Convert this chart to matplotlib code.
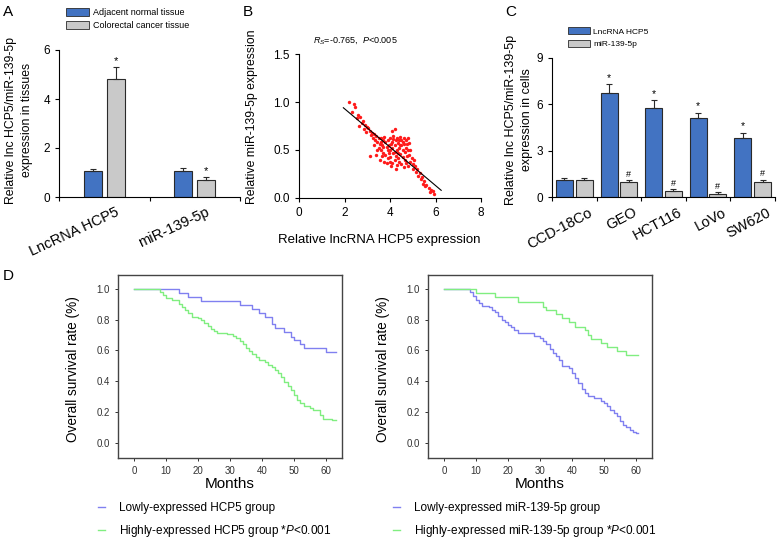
import matplotlib
matplotlib.use("Agg")
import matplotlib.pyplot as plt
import matplotlib.transforms as mtransforms
from matplotlib.patches import Rectangle
from matplotlib.lines import Line2D

plt.rcParams["font.family"] = ["Liberation Sans", "DejaVu Sans"]
plt.rcParams["mathtext.fontset"] = "custom"
plt.rcParams["mathtext.rm"] = "Liberation Sans"
plt.rcParams["mathtext.it"] = "Liberation Sans:italic"

W, H = 780, 540

# ---- data ----
# A: tissues
tissue_groups = ["LncRNA HCP5", "miR-139-5p"]
tissue_normal = [1.05, 1.08]
tissue_normal_err = [0.10, 0.12]
tissue_cancer = [4.8, 0.70]
tissue_cancer_err = [0.50, 0.10]
tissue_marks = ["*", "*"]

# B: correlation scatter
scatter_x = [2.2, 2.4, 2.45, 2.35, 2.6, 2.55, 2.7, 2.8, 2.75, 2.9, 2.65, 3.0, 2.85, 3.1, 3.05,
             3.2, 3.15, 2.95, 3.3, 3.25, 3.1,
             3.4, 3.5, 3.35, 3.6, 3.45, 3.55, 3.7, 3.65, 3.75, 3.8, 3.5, 3.6, 3.7, 3.85, 3.9,
             3.95, 3.4, 3.55, 3.8, 3.75, 3.9, 3.65, 3.85, 4.0, 4.0, 3.95, 4.0, 4.05,
             4.1, 4.2, 4.15, 4.25, 4.1, 4.3, 4.2, 4.35, 4.1, 4.3, 4.15, 4.4, 4.45, 4.25, 4.4,
             4.5, 4.2, 4.35, 4.1, 4.3, 4.45, 4.5, 4.55, 4.25, 4.4, 4.6, 4.6, 4.55, 4.65, 4.7,
             4.7, 4.5, 4.65, 4.75, 4.8, 4.8, 4.75, 4.85, 4.6, 4.9, 4.85, 4.95, 4.7, 4.9, 5.0,
             4.8, 5.05, 5.0, 3.3, 3.45, 3.6, 3.7, 3.9, 4.05, 4.15, 4.35, 4.45, 4.55, 4.0, 4.2,
             5.1, 5.2, 5.15, 5.3, 5.25, 5.4, 5.35, 5.5, 5.45, 5.6, 5.55, 5.7, 5.8, 5.75, 5.9, 5.95]
scatter_y = [1.0, 0.98, 0.95, 0.9, 0.86, 0.83, 0.84, 0.8, 0.78, 0.76, 0.75, 0.74, 0.72, 0.7, 0.73,
             0.68, 0.66, 0.69, 0.67, 0.63, 0.44,
             0.65, 0.62, 0.6, 0.63, 0.58, 0.56, 0.6, 0.55, 0.64, 0.58, 0.52, 0.5, 0.47, 0.53, 0.6,
             0.55, 0.45, 0.4, 0.45, 0.38, 0.42, 0.44, 0.36, 0.62, 0.5, 0.47, 0.38, 0.33,
             0.7, 0.72, 0.65, 0.6, 0.58, 0.63, 0.55, 0.57, 0.52, 0.5, 0.47, 0.6, 0.64, 0.44, 0.52,
             0.55, 0.4, 0.42, 0.36, 0.34, 0.46, 0.6, 0.5, 0.3, 0.38, 0.63, 0.56, 0.43, 0.48, 0.6,
             0.52, 0.35, 0.4, 0.56, 0.62, 0.5, 0.44, 0.57, 0.32, 0.5, 0.45, 0.42, 0.36, 0.38, 0.35,
             0.33, 0.4, 0.3, 0.55, 0.5, 0.58, 0.53, 0.5, 0.56, 0.61, 0.47, 0.55, 0.58, 0.43, 0.48,
             0.33, 0.3, 0.27, 0.26, 0.23, 0.22, 0.2, 0.18, 0.15, 0.14, 0.12, 0.1, 0.08, 0.06, 0.07, 0.04]
fit_x = [1.95, 6.25]
fit_y = [0.94, 0.08]

# C: cell lines
cell_lines = ["CCD-18Co", "GEO", "HCT116", "LoVo", "SW620"]
cell_hcp5 = [1.1, 6.75, 5.75, 5.1, 3.85]
cell_hcp5_err = [0.15, 0.55, 0.5, 0.35, 0.3]
cell_mir = [1.1, 0.95, 0.42, 0.22, 1.0]
cell_mir_err = [0.1, 0.12, 0.08, 0.08, 0.1]
cell_hcp5_marks = ["", "*", "*", "*", "*"]
cell_mir_marks = ["", "#", "#", "#", "#"]

# D: Kaplan-Meier steps
hcp5_low_t = [0, 14, 17, 21, 33, 37, 39, 41, 43, 44, 47, 49, 50, 52, 53, 60, 63]
hcp5_low_s = [1.0, 0.975, 0.95, 0.92, 0.895, 0.87, 0.845, 0.82, 0.77, 0.745, 0.72, 0.69,
              0.665, 0.64, 0.615, 0.59, 0.59]
hcp5_high_t = [0, 8, 9, 10, 12, 14, 15, 16, 17, 18, 20, 21, 22, 23, 24, 25, 26, 29, 31, 32,
               33, 34, 35, 36, 37, 38, 39, 41, 42, 43, 44, 45, 46, 47, 48, 49, 50, 51, 52, 53,
               55, 56, 58, 59, 62, 63]
hcp5_high_s = [1.0, 0.98, 0.96, 0.94, 0.925, 0.9, 0.88, 0.86, 0.84, 0.82, 0.81, 0.795, 0.775,
               0.76, 0.74, 0.725, 0.71, 0.705, 0.695, 0.68, 0.66, 0.64, 0.615, 0.595, 0.575,
               0.555, 0.54, 0.525, 0.505, 0.49, 0.475, 0.45, 0.425, 0.395, 0.37, 0.34, 0.31,
               0.28, 0.26, 0.24, 0.225, 0.21, 0.18, 0.155, 0.145, 0.145]
mir_low_t = [0, 8, 9, 10, 11, 12, 14, 15, 16, 17, 18, 19, 20, 21, 22, 23, 28, 30, 31, 32, 33,
             34, 35, 36, 37, 39, 40, 41, 42, 43, 44, 45, 47, 49, 50, 51, 52, 53, 54, 55, 56,
             57, 58, 59, 60, 60.5]
mir_low_s = [1.0, 0.98, 0.955, 0.93, 0.905, 0.89, 0.88, 0.865, 0.85, 0.825, 0.8, 0.785, 0.765,
             0.75, 0.73, 0.71, 0.695, 0.68, 0.66, 0.64, 0.61, 0.585, 0.565, 0.54, 0.5, 0.485,
             0.455, 0.42, 0.385, 0.35, 0.325, 0.305, 0.29, 0.27, 0.255, 0.24, 0.215, 0.195,
             0.17, 0.14, 0.115, 0.1, 0.085, 0.07, 0.06, 0.06]
mir_high_t = [0, 10, 16, 23, 31, 32, 35, 37, 39, 41, 44, 45, 46, 49, 51, 54, 57, 60.5]
mir_high_s = [1.0, 0.97, 0.945, 0.915, 0.885, 0.86, 0.835, 0.81, 0.785, 0.755, 0.73, 0.7,
              0.675, 0.645, 0.62, 0.595, 0.57, 0.57]

BLUE = "#4273c2"
GRAY = "#c9c9c9"
EDGE = "#2a2a2a"
KM_BLUE = "#8080f0"
KM_GREEN = "#80ee80"


def box(l, t, r, b):
    return [l / W, 1 - b / H, (r - l) / W, (b - t) / H]


def ftext(x, y, s, **kw):
    fig.text(x / W, 1 - y / H, s, **kw)


def shift_labels(ax, dx_px):
    # slanted category labels sit a little right of the group centre
    off = mtransforms.ScaledTranslation(dx_px / 100, 0, fig.dpi_scale_trans)
    for lab in ax.get_xticklabels():
        lab.set_transform(lab.get_transform() + off)


fig = plt.figure(figsize=(7.8, 5.4), dpi=100)

# panel letters
for x, y, s in [(3, 12, "A"), (243, 12, "B"), (505, 12, "C"), (3, 276, "D")]:
    ftext(x, y, s, fontsize=11, va="center", ha="left")

# ---- A ----
axA = fig.add_axes(box(59, 50, 240, 197))
centers = [0.5, 1.5]
ebar = dict(capsize=2, ecolor=EDGE, elinewidth=0.8, capthick=0.8)
axA.bar([c - 0.125 for c in centers], tissue_normal, 0.2, color=BLUE, edgecolor=EDGE, lw=0.8,
        yerr=[[0, 0], tissue_normal_err], error_kw=ebar)
axA.bar([c + 0.125 for c in centers], tissue_cancer, 0.2, color=GRAY, edgecolor=EDGE, lw=0.8,
        yerr=[[0, 0], tissue_cancer_err], error_kw=ebar)
for c, v, e, m in zip(centers, tissue_cancer, tissue_cancer_err, tissue_marks):
    axA.text(c + 0.125, v + e + 0.05, m, ha="center", va="bottom", fontsize=8)
axA.set_xlim(0, 2)
axA.set_ylim(0, 6)
axA.set_yticks([0, 2, 4, 6])
axA.set_xticks(centers)
axA.set_xticklabels(tissue_groups, rotation=25, ha="right", fontsize=10.5,
                    rotation_mode="anchor")
axA.set_xticks([0, 1, 2], minor=True)
axA.tick_params(axis="x", which="major", length=0, pad=6)
axA.tick_params(axis="x", which="minor", length=3, width=0.8)
axA.tick_params(axis="y", labelsize=8.5, length=3, width=0.8)
shift_labels(axA, 11)
for s in ["top", "right"]:
    axA.spines[s].set_visible(False)
ftext(19, 120, "Relative lnc HCP5/miR-139-5p\nexpression in tissues", rotation=90,
      ha="center", va="center", fontsize=8.8, linespacing=1.45)
axA.legend(handles=[Rectangle((0, 0), 1, 1, fc=BLUE, ec=EDGE, lw=0.6),
                    Rectangle((0, 0), 1, 1, fc=GRAY, ec=EDGE, lw=0.6)],
           labels=["Adjacent normal tissue", "Colorectal cancer tissue"],
           loc="lower left", bbox_to_anchor=(66 / W, 1 - 30 / H), bbox_transform=fig.transFigure,
           frameon=False, fontsize=6.5, handlelength=2.6, handleheight=0.9, handletextpad=0.4,
           labelspacing=0.45, borderpad=0, borderaxespad=0)

# ---- B ----
axB = fig.add_axes(box(299, 54, 481, 198))
axB.scatter(scatter_x, scatter_y, s=6, color="#ff1a1a", lw=0)
axB.plot(fit_x, fit_y, color="black", lw=0.8)
axB.set_xlim(0, 8)
axB.set_ylim(0, 1.5)
axB.set_xticks([0, 2, 4, 6, 8])
axB.set_yticks([0, 0.5, 1.0, 1.5])
axB.set_yticklabels(["0.0", "0.5", "1.0", "1.5"])
axB.tick_params(labelsize=8.5, length=3, width=0.8)
for s in ["top", "right"]:
    axB.spines[s].set_visible(False)
ftext(379, 240, "Relative lncRNA HCP5 expression", ha="center", va="center", fontsize=9.5)
ftext(252, 117, "Relative miR-139-5p expression", rotation=90, ha="center", va="center",
      fontsize=8.8)
ftext(313, 40, r"$R_S$=-0.765,  $P$<0.005", fontsize=6.5, va="center", ha="left")

# ---- C ----
axC = fig.add_axes(box(552, 58, 775, 197))
xs = list(range(len(cell_lines)))
cc = [x + 0.5 for x in xs]
axC.bar([c - 0.22 for c in cc], cell_hcp5, 0.38, color=BLUE, edgecolor=EDGE, lw=0.8,
        yerr=[[0] * 5, cell_hcp5_err], error_kw=ebar)
axC.bar([c + 0.22 for c in cc], cell_mir, 0.38, color=GRAY, edgecolor=EDGE, lw=0.8,
        yerr=[[0] * 5, cell_mir_err], error_kw=ebar)
for c, v, e, m in zip(cc, cell_hcp5, cell_hcp5_err, cell_hcp5_marks):
    axC.text(c - 0.22, v + e + 0.1, m, ha="center", va="bottom", fontsize=7.5)
for c, v, e, m in zip(cc, cell_mir, cell_mir_err, cell_mir_marks):
    axC.text(c + 0.22, v + e + 0.1, m, ha="center", va="bottom", fontsize=6.5)
axC.set_xlim(0, 5)
axC.set_ylim(0, 9)
axC.set_yticks([0, 3, 6, 9])
axC.set_xticks(cc)
axC.set_xticklabels(cell_lines, rotation=28, ha="right", fontsize=10.5, rotation_mode="anchor")
axC.set_xticks(range(6), minor=True)
axC.tick_params(axis="x", which="major", length=0, pad=6)
axC.tick_params(axis="x", which="minor", length=3, width=0.8)
axC.tick_params(axis="y", labelsize=8.5, length=3, width=0.8)
shift_labels(axC, 14)
for s in ["top", "right"]:
    axC.spines[s].set_visible(False)
ftext(519, 120, "Relative lnc HCP5/miR-139-5p\nexpression in cells", rotation=90,
      ha="center", va="center", fontsize=9, linespacing=1.4)
axC.legend(handles=[Rectangle((0, 0), 1, 1, fc=BLUE, ec=EDGE, lw=0.6),
                    Rectangle((0, 0), 1, 1, fc=GRAY, ec=EDGE, lw=0.6)],
           labels=["LncRNA HCP5", "miR-139-5p"],
           loc="lower left", bbox_to_anchor=(568 / W, 1 - 48 / H), bbox_transform=fig.transFigure,
           frameon=False, fontsize=6, handlelength=2.6, handleheight=0.9, handletextpad=0.4,
           labelspacing=0.5, borderpad=0, borderaxespad=0)


# ---- D ----
def km_panel(rect, ylab_x, low_t, low_s, high_t, high_s, low_lab, high_lab, leg_x):
    ax = fig.add_axes(box(*rect))
    ax.step(low_t, low_s, where="post", color=KM_BLUE, lw=1.0)
    ax.step(high_t, high_s, where="post", color=KM_GREEN, lw=1.0)
    ax.set_xlim(-5, 65)
    ax.set_ylim(-0.1, 1.09)
    ax.set_xticks(range(0, 61, 10))
    ax.set_yticks([0, 0.2, 0.4, 0.6, 0.8, 1.0])
    ax.set_yticklabels(["0.0", "0.2", "0.4", "0.6", "0.8", "1.0"])
    ax.tick_params(labelsize=7, length=2.5, width=0.7, colors="#333333")
    for s in ax.spines.values():
        s.set_color("#444444")
        s.set_linewidth(1.0)
    ftext((rect[0] + rect[2]) / 2, 484, "Months", ha="center", va="center", fontsize=11)
    ftext(ylab_x, 369, "Overall survival rate (%)", rotation=90, ha="center", va="center",
          fontsize=9.8)
    ax.legend(handles=[Line2D([], [], color=KM_BLUE, lw=1.0),
                       Line2D([], [], color=KM_GREEN, lw=1.0)],
              labels=[low_lab, high_lab], loc="upper left",
              bbox_to_anchor=(leg_x / W, 1 - 502 / H), bbox_transform=fig.transFigure,
              frameon=False, fontsize=8.5, handlelength=0.6, handletextpad=1.2,
              labelspacing=0.75, borderpad=0, borderaxespad=0)
    return ax


km_panel((118, 275, 342, 458), 73, hcp5_low_t, hcp5_low_s, hcp5_high_t, hcp5_high_s,
         "Lowly-expressed HCP5 group", r"Highly-expressed HCP5 group *$P$<0.001", 98)
km_panel((428, 275, 652, 458), 383, mir_low_t, mir_low_s, mir_high_t, mir_high_s,
         "Lowly-expressed miR-139-5p group", r"Highly-expressed miR-139-5p group *$P$<0.001", 393)

fig.savefig("out.png", dpi=100)
